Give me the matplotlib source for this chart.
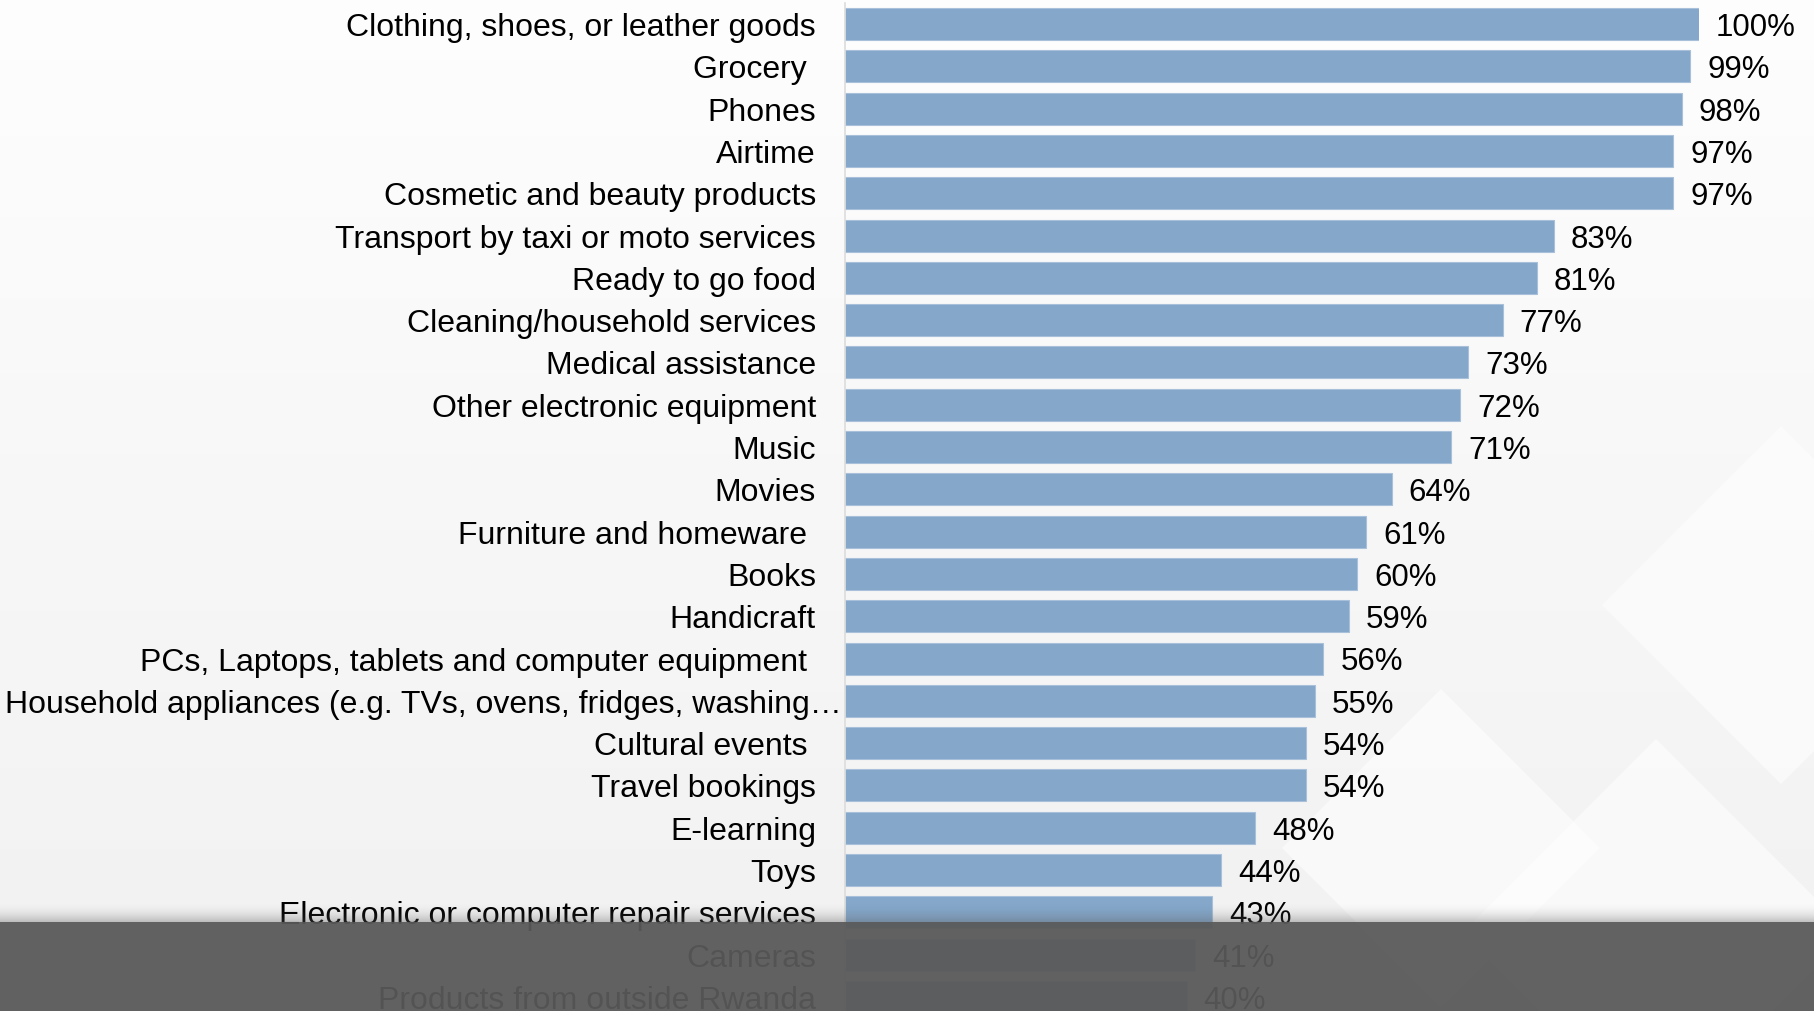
import numpy as np
import matplotlib
matplotlib.use("Agg")
import matplotlib.pyplot as plt
from matplotlib.patches import Polygon, Rectangle
import matplotlib.transforms as mtransforms

categories = [
    "Clothing, shoes, or leather goods", "Grocery ", "Phones", "Airtime",
    "Cosmetic and beauty products", "Transport by taxi or moto services",
    "Ready to go food", "Cleaning/household services", "Medical assistance",
    "Other electronic equipment", "Music", "Movies", "Furniture and homeware ",
    "Books", "Handicraft", "PCs, Laptops, tablets and computer equipment ",
    "Household appliances (e.g. TVs, ovens, fridges, washing\u2026",
    "Cultural events ", "Travel bookings", "E-learning", "Toys",
    "Electronic or computer repair services", "Cameras",
    "Products from outside Rwanda",
]
values = [100, 99, 98, 97, 97, 83, 81, 77, 73, 72, 71, 64, 61, 60, 59, 56,
          55, 54, 54, 48, 44, 43, 41, 40]

W, H = 1814, 1012
DPI = 100
plt.rcParams['font.family'] = ['Liberation Sans', 'DejaVu Sans']
fig = plt.figure(figsize=(W / DPI, H / DPI), dpi=DPI)

# background
bg = fig.add_axes([0, 0, 1, 1], zorder=0)
bg.set_xlim(0, W)
bg.set_ylim(H, 0)
bg.axis('off')
grad = np.linspace(0.995, 0.945, 200).reshape(-1, 1)
bg.imshow(np.dstack([grad, grad, grad]), extent=[0, W, H, 0], aspect='auto')
# faint lattice on the right
for poly in [
    [(1781, 427), (1960, 606), (1781, 785), (1602, 606)],
    [(1441, 690), (1600, 849), (1441, 1008), (1282, 849)],
    [(1656, 740), (1850, 934), (1656, 1128), (1462, 934)],
]:
    bg.add_patch(Polygon(poly, closed=True, fc='white', ec='none', alpha=0.55))

# main axes
x0 = 845
px_per_pct = 8.54
ax_w = 100 * px_per_pct
first_c, pitch = 25, 42.3
ax = fig.add_axes([x0 / W, 0, ax_w / W, 1], zorder=1)
ax.patch.set_alpha(0)
n = len(categories)
y = np.arange(n)
ax.set_xlim(0, 100)
ax.set_ylim((H - first_c) / pitch, -first_c / pitch)
ax.barh(y, values, height=32 / pitch, color='#84a7ca', edgecolor='#a8c0d9',
        linewidth=0.8, zorder=2)
for s in ['top', 'right', 'bottom']:
    ax.spines[s].set_visible(False)
ax.spines['left'].set_color('#dcdcdc')
ax.spines['left'].set_linewidth(1.2)
ax.spines['left'].set_bounds((H - first_c) / pitch, (4 - first_c) / pitch)
ax.set_xticks([])
ax.set_yticks([])

fs = 23
vfs = 22.5
base_off = 11 * 72 / DPI  # points below center
for i, (c, v) in enumerate(zip(categories, values)):
    if c.startswith("Household"):
        dx = -3
    else:
        dx = -29
    tr = mtransforms.offset_copy(ax.transData, fig=fig, x=dx * 72 / DPI,
                                 y=-base_off, units='points')
    ax.text(0, i, c, ha='right', va='baseline', fontsize=fs,
            color='black', transform=tr, zorder=3)
    tr2 = mtransforms.offset_copy(ax.transData, fig=fig, x=17 * 72 / DPI,
                                  y=-base_off, units='points')
    ax.text(v, i, f"{v}%", ha='left', va='baseline', fontsize=vfs,
            color='black', transform=tr2, zorder=3)

# dark overlay band at bottom
ov = fig.add_axes([0, 0, 1, 1], zorder=5)
ov.set_xlim(0, W)
ov.set_ylim(H, 0)
ov.axis('off')
ov.patch.set_alpha(0)
sh = np.linspace(0, 1, 50).reshape(-1, 1) ** 2
rgba = np.zeros((50, 1, 4))
rgba[..., 0:3] = 0.35
rgba[..., 3] = sh[:, 0:1] * 0.35
ov.imshow(rgba, extent=[0, W, 923, 903], aspect='auto', zorder=1)
ov.add_patch(Rectangle((0, 923), W, H - 923, fc='#595959', ec='none',
                       alpha=0.945, zorder=2))

fig.savefig('out.png', dpi=DPI)
